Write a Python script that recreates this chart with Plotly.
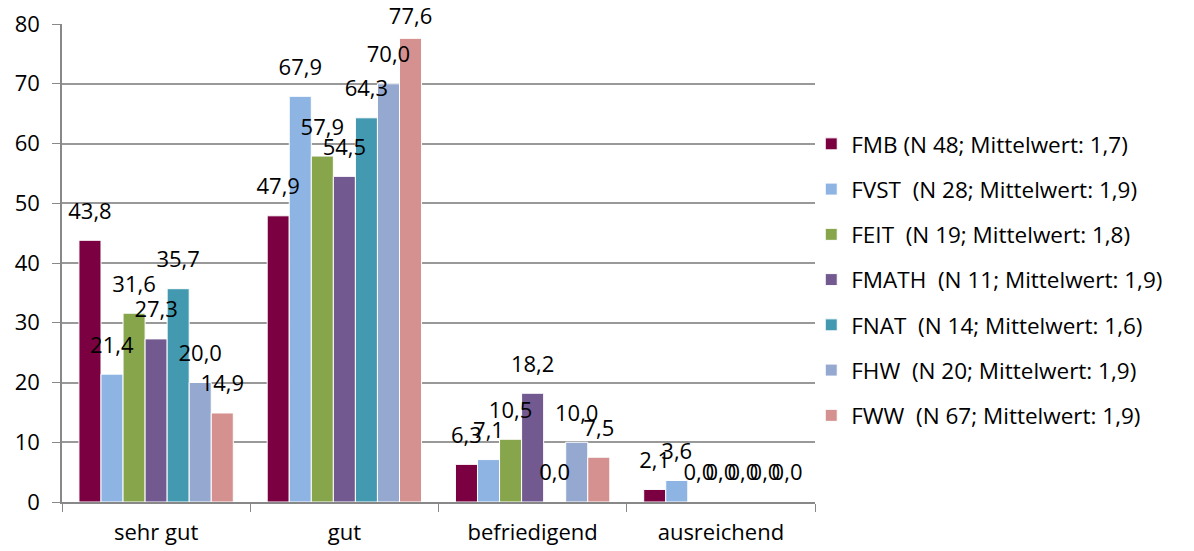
import plotly.graph_objects as go

categories = ['sehr gut', 'gut', 'befriedigend', 'ausreichend']

series_names = [
    'FMB (N 48; Mittelwert: 1,7)',
    'FVST \u00a0(N 28; Mittelwert: 1,9)',
    'FEIT \u00a0(N 19; Mittelwert: 1,8)',
    'FMATH \u00a0(N 11; Mittelwert: 1,9)',
    'FNAT \u00a0(N 14; Mittelwert: 1,6)',
    'FHW \u00a0(N 20; Mittelwert: 1,9)',
    'FWW \u00a0(N 67; Mittelwert: 1,9)',
]

fmb = [43.8, 47.9, 6.3, 2.1]
fvst = [21.4, 67.9, 7.1, 3.6]
feit = [31.6, 57.9, 10.5, 0.0]
fmath = [27.3, 54.5, 18.2, 0.0]
fnat = [35.7, 64.3, 0.0, 0.0]
fhw = [20.0, 70.0, 10.0, 0.0]
fww = [14.9, 77.6, 7.5, 0.0]

colors = ['#7B0041', '#8DB4E2', '#87A54B', '#72598F', '#4399B0', '#95A9D0', '#D59190']
all_vals = [fmb, fvst, feit, fmath, fnat, fhw, fww]

label_pad = 2.1   # gap between bar top and its label, in axis units (Excel style)
label_top = 78.5  # labels are kept inside the chart, like Excel does

fig = go.Figure()
# bars first
for i, (name, vals, col) in enumerate(zip(series_names, all_vals, colors)):
    fig.add_trace(go.Bar(
        x=categories, y=vals, name=name, legendgroup=name, offsetgroup=str(i),
        marker=dict(color=col, line=dict(color='white', width=1)),
    ))
# labels on top of every bar (invisible bars sitting on top of the real ones)
for i, (name, vals) in enumerate(zip(series_names, all_vals)):
    fig.add_trace(go.Bar(
        x=categories, y=[label_pad] * len(vals),
        base=[min(v, label_top - label_pad) for v in vals], name=name,
        offsetgroup=str(i), showlegend=False,
        marker=dict(color='rgba(0,0,0,0)', line=dict(width=0)), hoverinfo='skip',
        text=[f'{v:.1f}'.replace('.', ',') for v in vals], texttemplate='%{text}',
        textposition='outside', cliponaxis=False,
        constraintext='none', textfont=dict(size=22, color='black'),
    ))

fig.update_layout(
    width=1194, height=551,
    barmode='group', bargap=0.18, bargroupgap=0.0,
    separators=',.',
    font=dict(family='Open Sans, sans-serif', size=22, color='black'),
    paper_bgcolor='white', plot_bgcolor='white',
    margin=dict(l=62, r=379, t=24, b=49, autoexpand=False),
    legend=dict(x=0.995, xanchor='left', xref='paper', y=0.465, yanchor='middle',
                font=dict(size=22.5), tracegroupgap=13, itemwidth=30,
                bgcolor='rgba(0,0,0,0)'),
)
fig.update_xaxes(showline=True, linecolor='#888888', linewidth=1.5, automargin=False,
                 ticks='outside', tickson='boundaries', ticklen=8, tickcolor='#888888',
                 ticklabelstandoff=10, tickfont=dict(size=22))
fig.update_yaxes(range=[0, 80], dtick=10, showline=True, linecolor='#888888', linewidth=1.5,
                 automargin=False,
                 ticks='outside', ticklen=8, tickcolor='#888888', ticklabelstandoff=8,
                 gridcolor='#999999', gridwidth=1.5, zeroline=False,
                 tickfont=dict(size=22))

# drop the default 8px body margin so the chart sits at the page corner
fig.write_html("out.html", config={'displayModeBar': False},
               post_script="document.body.style.margin='0';")
